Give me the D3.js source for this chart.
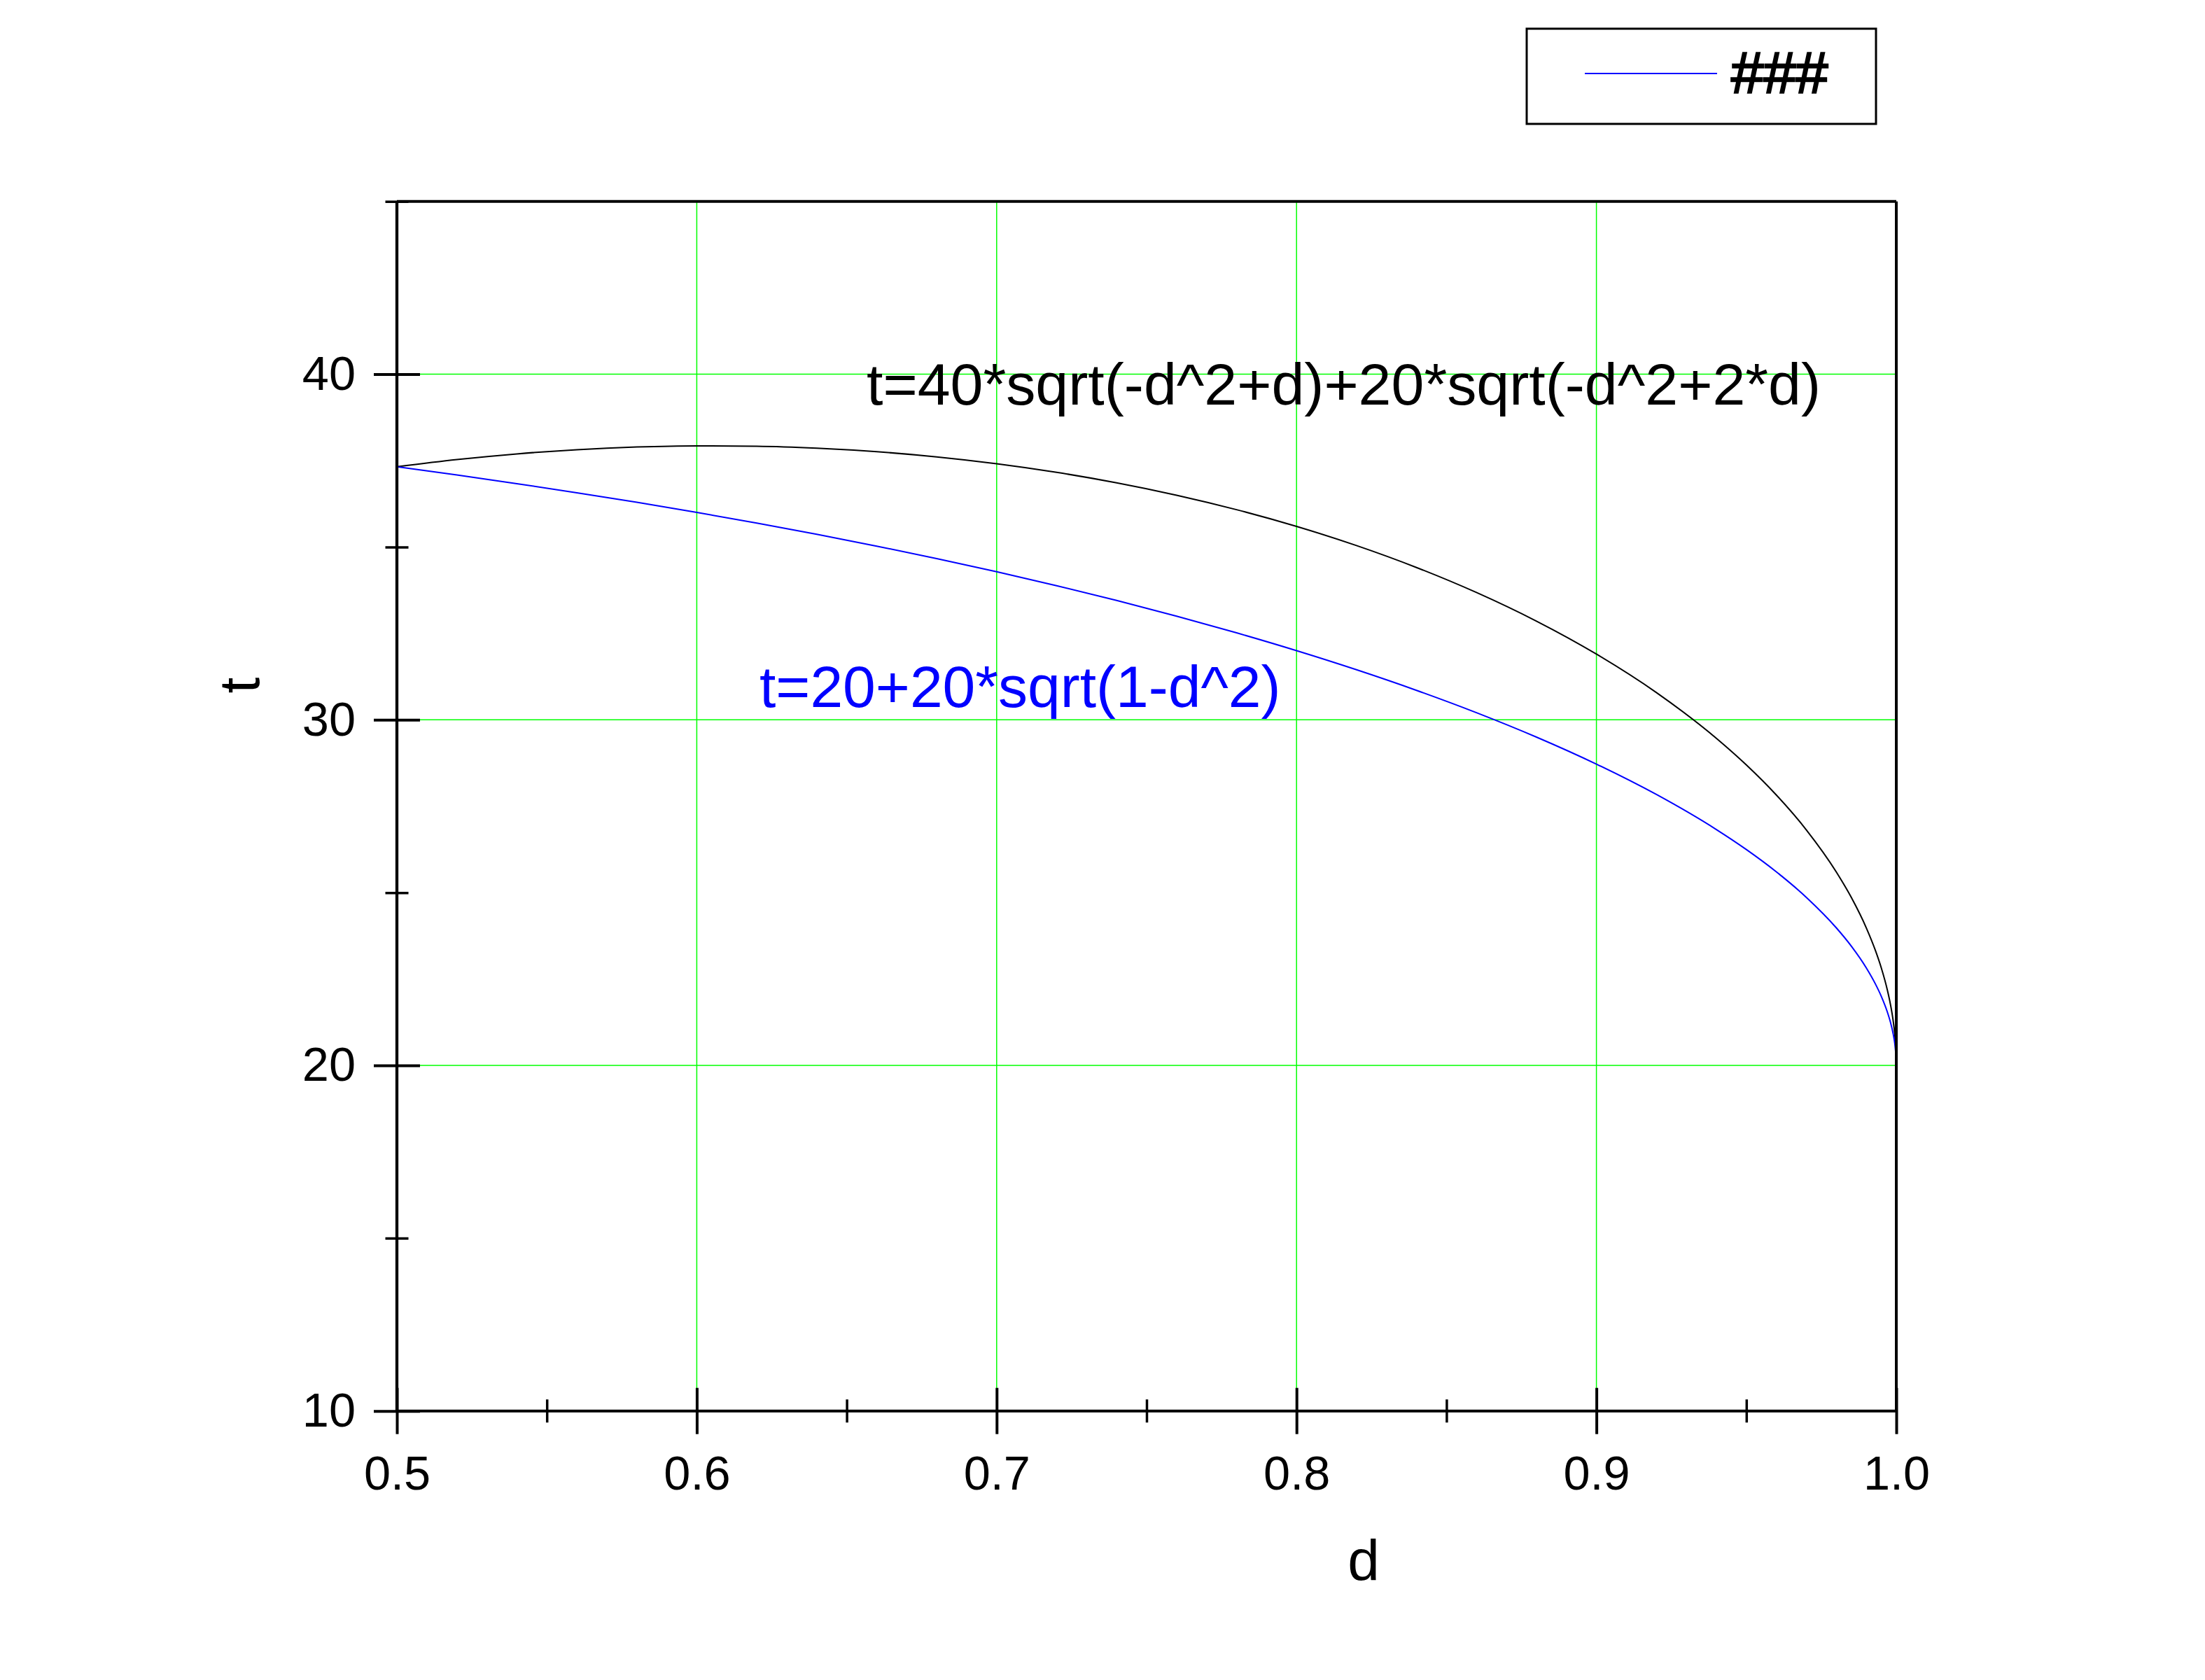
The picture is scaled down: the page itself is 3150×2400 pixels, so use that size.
<!DOCTYPE html>
<html>
<head>
<meta charset="utf-8">
<script src="https://cdn.jsdelivr.net/npm/d3@7"></script>
<style>
  html, body { margin: 0; padding: 0; background: #ffffff; }
  svg { display: block; }
  text { font-family: "Liberation Sans", Arial, sans-serif; }
</style>
</head>
<body>
<script>
// ---- data ----
const dValues = [0.50, 0.52, 0.54, 0.56, 0.58, 0.60, 0.62, 0.64, 0.66, 0.68, 0.70,
  0.72, 0.74, 0.76, 0.78, 0.80, 0.82, 0.84, 0.86, 0.88, 0.90, 0.92, 0.94, 0.95,
  0.96, 0.97, 0.98, 0.985, 0.99, 0.993, 0.995, 0.997, 0.998, 0.999, 0.9995, 0.9999];
// black curve: t=40*sqrt(-d^2+d)+20*sqrt(-d^2+2*d)
const tBlack = [37.3205, 37.5294, 37.6943, 37.8155, 37.8929, 37.9262, 37.9151, 37.8590,
  37.7569, 37.6074, 37.4091, 37.1600, 36.8576, 36.4988, 36.0798, 35.5959, 35.0408,
  34.4065, 33.6825, 32.8540, 31.8997, 30.7876, 29.4635, 28.6928, 27.8224, 26.8145,
  25.5960, 24.8598, 23.9790, 23.3344, 22.8211, 22.1875, 21.7871, 21.2643, 20.8942, 20.4000];
// blue curve: t=20+20*sqrt(1-d^2)
const tBlue = [37.3205, 37.0833, 36.8333, 36.5699, 36.2923, 36.0000, 35.6920, 35.3675,
  35.0253, 34.6642, 34.2829, 33.8795, 33.4521, 32.9985, 32.5156, 32.0000, 31.4473,
  30.8517, 30.2059, 29.4995, 28.7178, 27.8384, 26.8235, 26.2450, 25.6000, 24.8621,
  23.9799, 23.4511, 22.8213, 22.3623, 21.9975, 21.5480, 21.2643, 20.8942, 20.6324, 20.2828];

const xMajorTicks = [0.5, 0.6, 0.7, 0.8, 0.9, 1.0];
const xMinorTicks = [0.55, 0.65, 0.75, 0.85, 0.95];
const yMajorTicks = [10, 20, 30, 40];
const yMinorTicks = [15, 25, 35, 45];
const xGrid = [0.6, 0.7, 0.8, 0.9];
const yGrid = [20, 30, 40];

const xTitle = "d";
const yTitle = "t";
const labelBlack = "t=40*sqrt(-d^2+d)+20*sqrt(-d^2+2*d)";
const labelBlue = "t=20+20*sqrt(1-d^2)";
const legendLabel = "###";

// ---- layout ----
const W = 3150, H = 2400;
const pL = 567, pR = 2709, pT = 287.7, pB = 2015.7;

const svg = d3.select("body").append("svg")
  .attr("width", W).attr("height", H)
  .attr("viewBox", `0 0 ${W} ${H}`);
svg.append("rect").attr("width", W).attr("height", H).attr("fill", "#ffffff");

const x = d3.scaleLinear().domain([0.5, 1.0]).range([pL, pR]);
const y = d3.scaleLinear().domain([10, 45]).range([pB, pT]);

// grid
const grid = svg.append("g");
grid.selectAll("line.gx").data(xGrid).join("line").attr("class", "gx")
  .attr("x1", d => x(d)).attr("x2", d => x(d))
  .attr("y1", pT).attr("y2", pB)
  .attr("stroke", "#00ff00").attr("stroke-width", 1.5);
grid.selectAll("line.gy").data(yGrid).join("line").attr("class", "gy")
  .attr("x1", pL).attr("x2", pR)
  .attr("y1", d => y(d)).attr("y2", d => y(d))
  .attr("stroke", "#00ff00").attr("stroke-width", 1.5);

// curves
const pts = (arr) => dValues.map((d, i) => [d, arr[i]]);
const line = d3.line().x(p => x(p[0])).y(p => y(p[1])).curve(d3.curveMonotoneX);
svg.append("path").attr("d", line(pts(tBlack)))
  .attr("fill", "none").attr("stroke", "#000000").attr("stroke-width", 2);
svg.append("path").attr("d", line(pts(tBlue)))
  .attr("fill", "none").attr("stroke", "#0000ff").attr("stroke-width", 2);

// frame (top & right)
svg.append("line").attr("x1", pL).attr("x2", pR).attr("y1", pT).attr("y2", pT)
  .attr("stroke", "#000").attr("stroke-width", 4);
svg.append("line").attr("x1", pR).attr("x2", pR).attr("y1", pT).attr("y2", pB)
  .attr("stroke", "#000").attr("stroke-width", 4);

// axes
const tickLen = 33, minorLen = 16.5;
const xAxis = d3.axisBottom(x).tickValues(xMajorTicks).tickFormat(d3.format(".1f"))
  .tickSize(tickLen).tickPadding(31);
const gx = svg.append("g").attr("transform", `translate(0,${pB})`).call(xAxis);
gx.select(".domain").remove();
gx.selectAll(".tick line").attr("y1", -tickLen).attr("y2", tickLen)
  .attr("stroke", "#000").attr("stroke-width", 4);
gx.selectAll(".tick text").attr("font-size", 68.5).attr("fill", "#000")
  .attr("font-family", "'Liberation Sans', Arial, sans-serif");

const xAxisMinor = d3.axisBottom(x).tickValues(xMinorTicks).tickFormat("").tickSize(minorLen);
const gxm = svg.append("g").attr("transform", `translate(0,${pB})`).call(xAxisMinor);
gxm.select(".domain").remove();
gxm.selectAll(".tick line").attr("y1", -minorLen).attr("y2", minorLen)
  .attr("stroke", "#000").attr("stroke-width", 3.5);

const yAxis = d3.axisLeft(y).tickValues(yMajorTicks).tickFormat(d3.format("d"))
  .tickSize(tickLen).tickPadding(26);
const gy = svg.append("g").attr("transform", `translate(${pL},0)`).call(yAxis);
gy.select(".domain").remove();
gy.selectAll(".tick line").attr("x1", tickLen).attr("x2", -tickLen)
  .attr("stroke", "#000").attr("stroke-width", 4);
gy.selectAll(".tick text").attr("font-size", 68.5).attr("fill", "#000")
  .attr("font-family", "'Liberation Sans', Arial, sans-serif");

const yAxisMinor = d3.axisLeft(y).tickValues(yMinorTicks).tickFormat("").tickSize(minorLen);
const gym = svg.append("g").attr("transform", `translate(${pL},0)`).call(yAxisMinor);
gym.select(".domain").remove();
gym.selectAll(".tick line").attr("x1", minorLen).attr("x2", -minorLen)
  .attr("stroke", "#000").attr("stroke-width", 3.5);

// axis lines (left, bottom)
svg.append("line").attr("x1", pL).attr("x2", pL).attr("y1", pT).attr("y2", pB)
  .attr("stroke", "#000").attr("stroke-width", 4.3);
svg.append("line").attr("x1", pL).attr("x2", pR).attr("y1", pB).attr("y2", pB)
  .attr("stroke", "#000").attr("stroke-width", 4);

// axis titles
svg.append("text").attr("x", 1948).attr("y", 2257).attr("text-anchor", "middle")
  .attr("font-size", 82).attr("fill", "#000").text(xTitle);
svg.append("text").attr("transform", "translate(370,979) rotate(-90)")
  .attr("text-anchor", "middle").attr("font-size", 82).attr("fill", "#000").text(yTitle);

// curve annotations
svg.append("text").attr("x", 1238).attr("y", 578).attr("font-size", 84.3)
  .attr("fill", "#000").text(labelBlack);
svg.append("text").attr("x", 1085).attr("y", 1010).attr("font-size", 84)
  .attr("fill", "#0000ff").text(labelBlue);

// legend
const lg = svg.append("g");
lg.append("rect").attr("x", 2181).attr("y", 41).attr("width", 499).attr("height", 136)
  .attr("fill", "#fff").attr("stroke", "#000").attr("stroke-width", 3);
lg.append("line").attr("x1", 2264).attr("x2", 2453).attr("y1", 105).attr("y2", 105)
  .attr("stroke", "#0000ff").attr("stroke-width", 2);
lg.append("text").attr("x", 2473).attr("y", 133).attr("font-size", 83)
  .attr("fill", "#000").attr("stroke", "#000").attr("stroke-width", 2.5)
  .text(legendLabel);
</script>
</body>
</html>
